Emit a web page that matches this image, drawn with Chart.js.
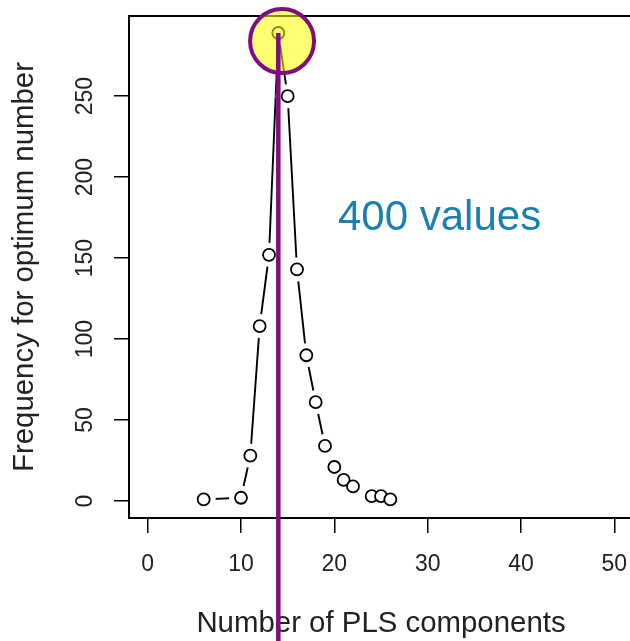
<!DOCTYPE html>
<html><head><meta charset="utf-8">
<script src="https://cdn.jsdelivr.net/npm/chart.js@4.4.1/dist/chart.umd.min.js"></script>
<style>
html,body{margin:0;padding:0;background:#fff;overflow:hidden;width:630px;height:641px;}
#wrap{position:relative;width:630px;height:641px;overflow:hidden;}
#inner{position:absolute;left:0;top:0;width:650px;height:642px;}
#note{position:absolute;left:338px;top:195px;font-size:42px;line-height:42px;font-family:"Liberation Sans",Arial,sans-serif;color:#1a80b0;white-space:nowrap;}
</style></head><body>
<div id="wrap"><div id="inner"><canvas id="c"></canvas></div><div id="note">400 values</div></div>
<script>
// Data
const components = [6,10,11,12,13,14,15,16,17,18,19,20,21,22,24,25,26];
const frequency  = [1,2,28,108,152,289,250,143,90,61,34,21,13,9,3,3,1];
const xTicks = [0,10,20,30,40,50];
const yTicks = [0,50,100,150,200,250];
const xTitle = 'Number of PLS components';
const yTitle = 'Frequency for optimum number';
// highlighted optimum
const optimumX = 14;
const optimumY = 289;
const highlightCenter = {x: 14.4, y: 284};

const pts = components.map((c,i)=>({x:c, y:frequency[i]}));
const FONT = '"Liberation Sans", Arial, sans-serif';

const boxPlugin = {
  id:'box',
  beforeDatasetsDraw(chart){
    const a = chart.chartArea, ctx = chart.ctx;
    ctx.save();
    ctx.strokeStyle = '#000';
    ctx.lineWidth = 2;
    ctx.beginPath();
    ctx.moveTo(chart.width, a.top);
    ctx.lineTo(a.left, a.top);
    ctx.lineTo(a.left, a.bottom);
    ctx.lineTo(chart.width, a.bottom);
    ctx.stroke();
    ctx.restore();
  }
};
function noPad(s){ s.paddingTop = 0; s.paddingBottom = 0; s.paddingLeft = 0; s.paddingRight = 0; }

new Chart(document.getElementById('c'), {
  type:'scatter',
  data:{datasets:[
    {type:'line', data:pts, borderColor:'#000', borderWidth:1.9, pointRadius:0, tension:0, order:5},
    {data:pts, pointRadius:12, pointBackgroundColor:'#fff', pointBorderWidth:0, pointBorderColor:'#fff', showLine:false, order:4},
    {data:pts, pointRadius:6, pointBackgroundColor:'#fff', pointBorderColor:'#000', pointBorderWidth:1.8, showLine:false, order:3},
    {type:'bubble', data:[{x:highlightCenter.x, y:highlightCenter.y, r:32}], backgroundColor:'rgba(255,255,0,0.55)', borderColor:'#7d0d82', borderWidth:4, clip:false, order:2},
    {type:'line', data:[{x:optimumX, y:optimumY},{x:optimumX, y:-120}], borderColor:'#7d0d82', borderWidth:4.5, pointRadius:0, clip:false, order:1}
  ]},
  options:{
    responsive:true, maintainAspectRatio:false, animation:false,
    events:[],
    layout:{autoPadding:false, padding:{top:16, right:17, left:0, bottom:0}},
    plugins:{legend:{display:false}, tooltip:{enabled:false}},
    scales:{
      x:{type:'linear', min:-2, max:52,
        afterBuildTicks:s=>{s.ticks = xTicks.map(v=>({value:v}));},
        afterFit:s=>{s.height = 124; noPad(s);},
        ticks:{font:{size:23, family:FONT}, color:'#222', padding:18, maxRotation:0},
        grid:{drawOnChartArea:false, drawTicks:true, tickLength:15, color:'#000', lineWidth:1.5},
        border:{display:true, color:'#000', width:2},
        title:{display:true, text:xTitle, font:{size:29.4, family:FONT}, color:'#222', padding:{top:26, bottom:0}}
      },
      y:{type:'linear', min:-10.5, max:299.5,
        afterBuildTicks:s=>{s.ticks = yTicks.map(v=>({value:v}));},
        afterFit:s=>{s.width = 129; noPad(s);},
        ticks:{font:{size:23, family:FONT}, color:'#222', padding:9, minRotation:90, maxRotation:90, crossAlign:'center'},
        grid:{drawOnChartArea:false, drawTicks:true, tickLength:15, color:'#000', lineWidth:1.5},
        border:{display:true, color:'#000', width:2},
        title:{display:true, text:yTitle, font:{size:29.4, family:FONT}, color:'#222', padding:{top:7, bottom:34}}
      }
    }
  },
  plugins:[boxPlugin]
});
</script>
</body></html>
